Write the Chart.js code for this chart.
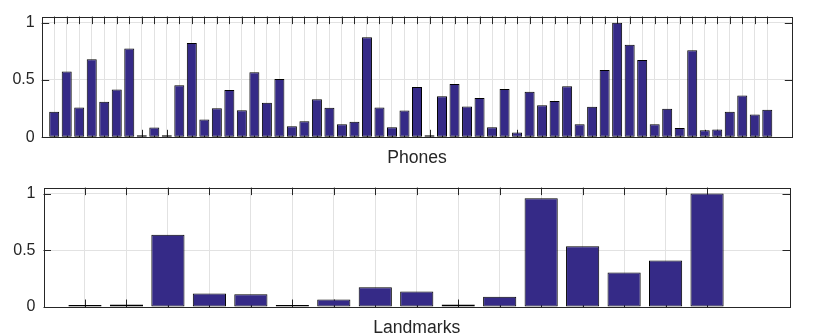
<!DOCTYPE html>
<html>
<head>
<meta charset="utf-8">
<script src="https://cdn.jsdelivr.net/npm/chart.js@4.4.1/dist/chart.umd.min.js"></script>
<style>
  html, body { margin: 0; padding: 0; background: #fff; overflow: hidden; width: 830px; height: 336px; }
  canvas { position: absolute; left: 0; }
  #c1 { top: 0; }
  #c2 { top: 170px; }
</style>
</head>
<body>
<canvas id="c1" width="830" height="170"></canvas>
<canvas id="c2" width="830" height="170"></canvas>
<script>
// ---- data ----
const phonesTitle = 'Phones';
const landmarksTitle = 'Landmarks';
const phonesValues = [
  0.223, 0.573, 0.260, 0.681, 0.311, 0.418, 0.774, 0.014, 0.085, 0.008,
  0.455, 0.822, 0.155, 0.254, 0.412, 0.237, 0.568, 0.302, 0.508, 0.096,
  0.141, 0.331, 0.257, 0.113, 0.136, 0.873, 0.260, 0.088, 0.234, 0.438,
  0.017, 0.359, 0.466, 0.268, 0.342, 0.088, 0.421, 0.042, 0.398, 0.280,
  0.316, 0.446, 0.113, 0.266, 0.588, 1.000, 0.808, 0.675, 0.113, 0.249,
  0.082, 0.760, 0.062, 0.068, 0.223, 0.364, 0.200, 0.240
];
const landmarksValues = [
  0.009, 0.023, 0.637, 0.119, 0.113, 0.009, 0.067, 0.174,
  0.137, 0.023, 0.090, 0.959, 0.535, 0.305, 0.410, 1.000
];
const yTickValues = [0, 0.5, 1];
const yTickLabels = ['0', '0.5', '1'];

// ---- styling ----
const FONT = "'Liberation Sans', Arial, Helvetica, sans-serif";
const AXIS_COLOR = '#262626';
const GRID_COLOR = '#e2e2e2';
const BAR_COLOR = '#352a87';

const boxPlugin = {
  id: 'matlabBox',
  beforeDatasetsDraw(chart, args, opts) {
    const { ctx, chartArea: a, scales: { x, y } } = chart;
    const L = opts.tickLen || 7.5;
    ctx.save();
    ctx.strokeStyle = AXIS_COLOR;
    ctx.lineWidth = 1;
    ctx.beginPath();
    x.ticks.forEach(t => {
      const px = Math.round(x.getPixelForValue(t.value)) + 0.5;
      ctx.moveTo(px, a.top); ctx.lineTo(px, a.top + L);
      ctx.moveTo(px, a.bottom); ctx.lineTo(px, a.bottom - L);
    });
    y.ticks.forEach(t => {
      const py = Math.round(y.getPixelForValue(t.value)) + 0.5;
      ctx.moveTo(a.left, py); ctx.lineTo(a.left + L, py);
      ctx.moveTo(a.right, py); ctx.lineTo(a.right - L, py);
    });
    ctx.stroke();
    ctx.strokeRect(Math.round(a.left) + 0.5, Math.round(a.top) + 0.5,
                   Math.round(a.right) - Math.round(a.left), Math.round(a.bottom) - Math.round(a.top));
    ctx.restore();
  }
};

function makeChart(id, values, title, geom) {
  const n = values.length;
  const xTicks = values.map((v, i) => i + 1);
  const data = values.map((v, i) => ({ x: xTicks[i], y: v }));
  return new Chart(document.getElementById(id), {
    type: 'bar',
    data: {
      datasets: [{
        data: data,
        backgroundColor: BAR_COLOR,
        borderColor: '#000000',
        borderWidth: 1,
        borderSkipped: false,
        minBarLength: 2,
        barPercentage: 0.8,
        categoryPercentage: 1.0
      }]
    },
    options: {
      responsive: false,
      animation: false,
      devicePixelRatio: 1,
      layout: { padding: { left: 0, right: geom.right, top: geom.top, bottom: 0 } },
      plugins: {
        legend: { display: false },
        tooltip: { enabled: false },
        matlabBox: { tickLen: 7.5 }
      },
      scales: {
        x: {
          type: 'linear',
          min: 0,
          max: n + 2,
          offset: false,
          grid: { offset: false, color: GRID_COLOR, drawTicks: false, lineWidth: 1 },
          border: { display: false },
          ticks: { display: false },
          afterBuildTicks: s => { s.ticks = xTicks.map(v => ({ value: v })); },
          afterFit: s => { s.height = geom.xHeight; },
          title: {
            display: true,
            text: title,
            color: AXIS_COLOR,
            font: { family: FONT, size: 17.6 },
            padding: { top: 0, bottom: 1.4 }
          }
        },
        y: {
          min: 0,
          max: 1.053,
          grid: { color: GRID_COLOR, drawTicks: false, lineWidth: 1 },
          border: { display: false },
          afterBuildTicks: s => { s.ticks = yTickValues.map(v => ({ value: v })); },
          afterFit: s => { s.width = geom.left; },
          ticks: {
            padding: geom.labelPad,
            color: AXIS_COLOR,
            font: { family: FONT, size: 16 },
            callback: (v) => { const i = yTickValues.indexOf(v); return i >= 0 ? yTickLabels[i] : ''; }
          }
        }
      }
    },
    plugins: [boxPlugin]
  });
}

makeChart('c1', phonesValues, phonesTitle, { left: 41.7, right: 37.7, top: 13, xHeight: 32.7, labelPad: 7 });
makeChart('c2', landmarksValues, landmarksTitle, { left: 43.5, right: 40, top: 16, xHeight: 33, labelPad: 8 });
</script>
</body>
</html>
